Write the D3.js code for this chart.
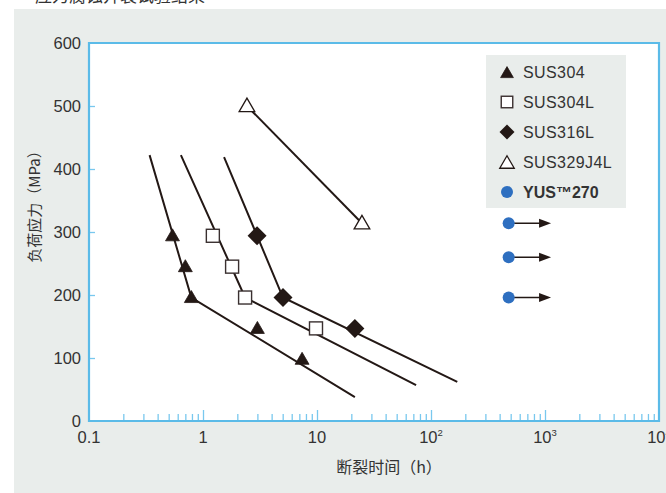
<!DOCTYPE html>
<html>
<head>
<meta charset="utf-8">
<script src="https://cdn.jsdelivr.net/npm/d3@7"></script>
<style>
  html, body { margin: 0; padding: 0; background: #fff; }
  svg { display: block; }
  text { font-family: "Liberation Sans", Arial, "Noto Sans CJK SC", sans-serif; fill: #333; }
  .cjk { font-family: "Noto Sans CJK SC", "Liberation Sans", sans-serif; }
</style>
</head>
<body>
<svg id="chart" width="666" height="493"></svg>
<script>
// Rupture time (h) vs. applied stress (MPa)
const grades = ["SUS304", "SUS304L", "SUS316L", "SUS329J4L", "YUS™270"];

const sus304Time   = [0.54, 0.70, 0.79, 3.0, 7.4];
const sus304Stress = [294, 245, 196, 147, 98];
const sus304Fit    = [[0.34, 422], [0.79, 196], [21.5, 38]];

const sus304LTime   = [1.22, 1.80, 2.34, 9.8];
const sus304LStress = [294, 245, 196, 147];
const sus304LFit    = [[0.64, 422], [2.34, 196], [74, 57]];

const sus316LTime   = [2.98, 5.03, 21.5];
const sus316LStress = [294, 196, 147];
const sus316LFit    = [[1.53, 419], [5.03, 196], [170, 62]];

const sus329Time   = [2.43, 24.8];
const sus329Stress = [500, 314];

// YUS270: not ruptured, test stopped (arrow = still running)
const yusTime    = [480, 480, 480];
const yusStress  = [314, 260, 196];
const yusArrowTo = 1130;

const xTicksMajor = [0.1, 1, 10, 100, 1000, 10000];
const xTickLabels = [["0.1", ""], ["1", ""], ["10", ""], ["10", "2"], ["10", "3"], ["10", "4"]];
const yTicks = [0, 100, 200, 300, 400, 500, 600];

const svg = d3.select("#chart");
const W = 666, H = 493;
const m = { left: 89, right: 659, top: 43, bottom: 421 };
const axisBlue = "#5bbbe8", ink = "#231815", blue = "#2e6fc0", panel = "#e9edeb";

// Background panel
svg.append("rect").attr("x", 14).attr("y", 9).attr("width", W - 14).attr("height", H - 9).attr("fill", panel);
// Heading (runs off the top edge)
svg.append("text").attr("class", "cjk").attr("x", 35).attr("y", 2).attr("font-size", 17)
  .attr("fill", "#444").text("应力腐蚀开裂试验结果");

const x = d3.scaleLog().domain([0.1, 10000]).range([m.left, m.right]);
const y = d3.scaleLinear().domain([0, 600]).range([m.bottom, m.top]);

// Plot area
svg.append("rect").attr("x", m.left).attr("y", m.top).attr("width", m.right - m.left).attr("height", m.bottom - m.top)
  .attr("fill", "#fff");

// X ticks (inward)
const minorTicks = [];
for (let e = -1; e < 4; e++) for (let k = 2; k <= 9; k++) minorTicks.push(k * Math.pow(10, e));
const gxMinor = svg.append("g").attr("transform", `translate(0,${m.bottom})`)
  .call(d3.axisBottom(x).tickValues(minorTicks).tickSize(-7).tickFormat(""));
const gxMajor = svg.append("g").attr("transform", `translate(0,${m.bottom})`)
  .call(d3.axisBottom(x).tickValues(xTicksMajor.slice(1, 5)).tickSize(-11).tickFormat(""));
[gxMinor, gxMajor].forEach(g => {
  g.select(".domain").remove();
  g.selectAll("line").attr("stroke", "#79c8ee").attr("stroke-width", 1.3);
});

// Y ticks (inward)
const gy = svg.append("g").attr("transform", `translate(${m.left},0)`)
  .call(d3.axisLeft(y).tickValues(yTicks.slice(1, 6)).tickSize(-6).tickFormat(""));
gy.select(".domain").remove();
gy.selectAll("line").attr("stroke", "#79c8ee").attr("stroke-width", 1.3);

// Frame
svg.append("path")
  .attr("d", `M${m.left},${m.bottom}H${m.right}V${m.top}H${m.left}Z`)
  .attr("fill", "none").attr("stroke", axisBlue).attr("stroke-width", 2.2);

// Y tick labels
svg.append("g").selectAll("text").data(yTicks).join("text")
  .attr("x", 81).attr("y", d => y(d)).attr("dy", "0.36em")
  .attr("text-anchor", "end").attr("font-size", 16.5).text(d => d);

// X tick labels with superscripts
const xl = svg.append("g").selectAll("text").data(xTicksMajor).join("text")
  .attr("x", d => x(d)).attr("y", 443).attr("text-anchor", "middle").attr("font-size", 16.5);
xl.append("tspan").text((d, i) => xTickLabels[i][0]);
xl.append("tspan").attr("font-size", 9.5).attr("dy", -7).text((d, i) => xTickLabels[i][1]);

// Axis titles
svg.append("text").attr("class", "cjk").attr("x", 389).attr("y", 467).attr("dy", "0.35em")
  .attr("text-anchor", "middle").attr("font-size", 16).text("断裂时间（h）");
svg.append("text").attr("class", "cjk").attr("transform", "translate(35,203) rotate(-90)")
  .attr("dy", "0.35em").attr("text-anchor", "middle").attr("font-size", 15).text("负荷应力（MPa）");

// Fitted lines
const line = d3.line().x(d => x(d[0])).y(d => y(d[1]));
[sus304Fit, sus304LFit, sus316LFit].forEach(f => {
  svg.append("path").attr("d", line(f)).attr("fill", "none").attr("stroke", ink).attr("stroke-width", 2);
});
svg.append("path").attr("d", line(d3.zip(sus329Time, sus329Stress)))
  .attr("fill", "none").attr("stroke", ink).attr("stroke-width", 2);

// Marker shapes
const triPath = s => `M0,${-s * 0.58}L${s * 0.58},${s * 0.42}L${-s * 0.58},${s * 0.42}Z`;
function drawTri(g, cx, cy, s, filled) {
  g.append("path").attr("transform", `translate(${cx},${cy})`).attr("d", triPath(s))
    .attr("fill", filled ? ink : "#fff").attr("stroke", ink).attr("stroke-width", filled ? 0.8 : 1.3)
    .attr("stroke-linejoin", "miter");
}
function drawSquare(g, cx, cy, s) {
  g.append("rect").attr("x", cx - s / 2).attr("y", cy - s / 2).attr("width", s).attr("height", s)
    .attr("fill", "#fff").attr("stroke", "#3a3030").attr("stroke-width", 1.4);
}
function drawDiamond(g, cx, cy, s) {
  g.append("path").attr("transform", `translate(${cx},${cy})`)
    .attr("d", `M0,${-s / 2}L${s / 2},0L0,${s / 2}L${-s / 2},0Z`).attr("fill", ink);
}
function drawDot(g, cx, cy, r) {
  g.append("circle").attr("cx", cx).attr("cy", cy).attr("r", r).attr("fill", blue);
}

const marks = svg.append("g");
sus304Time.forEach((t, i) => drawTri(marks, x(t), y(sus304Stress[i]), 12, true));
sus304LTime.forEach((t, i) => drawSquare(marks, x(t), y(sus304LStress[i]), 13));
sus316LTime.forEach((t, i) => drawDiamond(marks, x(t), y(sus316LStress[i]), 19));
sus329Time.forEach((t, i) => drawTri(marks, x(t), y(sus329Stress[i]), 13.5, false));

// YUS270 runouts with arrows
yusTime.forEach((t, i) => {
  const cy = y(yusStress[i]), x0 = x(t), x1 = x(yusArrowTo);
  marks.append("line").attr("x1", x0).attr("x2", x1 - 9).attr("y1", cy).attr("y2", cy)
    .attr("stroke", ink).attr("stroke-width", 1.4);
  marks.append("path").attr("d", `M${x1},${cy}L${x1 - 12},${cy - 4.5}L${x1 - 12},${cy + 4.5}Z`).attr("fill", ink);
  drawDot(marks, x0, cy, 6);
});

// Legend
const lg = svg.append("g");
lg.append("rect").attr("x", 486).attr("y", 55).attr("width", 140).attr("height", 153).attr("fill", panel);
const rowY = i => 72 + i * 30;
drawTri(lg, 507, rowY(0) + 1, 11, true);
drawSquare(lg, 507, rowY(1), 11.5);
drawDiamond(lg, 507, rowY(2), 15);
drawTri(lg, 507, rowY(3) + 1, 12.5, false);
drawDot(lg, 507, rowY(4), 6);
lg.selectAll("text").data(grades).join("text")
  .attr("x", 523).attr("y", (d, i) => rowY(i)).attr("dy", "0.36em")
  .attr("font-size", 16).attr("letter-spacing", (d, i) => i === 4 ? 0 : 0.4)
  .attr("font-weight", (d, i) => i === 4 ? "bold" : "normal")
  .attr("fill", "#222").text(d => d);
</script>
</body>
</html>
